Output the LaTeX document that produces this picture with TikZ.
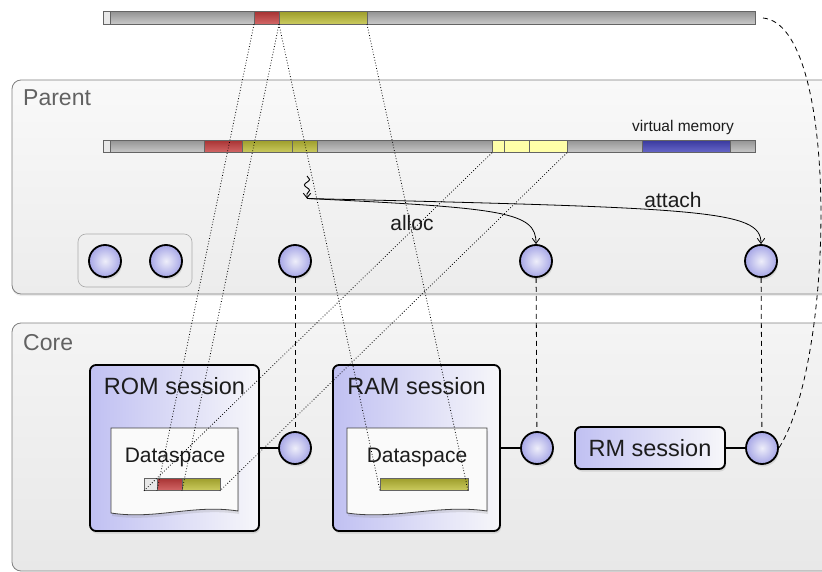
\documentclass[tikz,border=0pt]{standalone}
\usepackage{fontspec}
\setmainfont{Liberation Sans}
\usetikzlibrary{arrows.meta,calc,decorations.pathmorphing,positioning,shadows}

\definecolor{capin}{RGB}{238,238,250}
\definecolor{capout}{RGB}{166,166,230}
\definecolor{sesleft}{RGB}{192,192,242}
\definecolor{sesright}{RGB}{247,247,250}
\definecolor{barline}{RGB}{100,100,100}
\definecolor{graytop}{RGB}{148,148,148}
\definecolor{graybot}{RGB}{202,202,202}
\definecolor{redtop}{RGB}{168,52,52}
\definecolor{redbot}{RGB}{212,104,104}
\definecolor{olivetop}{RGB}{158,158,44}
\definecolor{olivebot}{RGB}{204,204,96}
\definecolor{paleyel}{RGB}{255,255,168}
\definecolor{bluetop}{RGB}{58,58,158}
\definecolor{bluebot}{RGB}{104,104,202}
\definecolor{lightfill}{RGB}{232,232,232}
\definecolor{boxline}{RGB}{128,128,128}
\definecolor{groupline}{RGB}{170,170,170}
\definecolor{parenttop}{RGB}{249,249,249}
\definecolor{parentbot}{RGB}{236,236,236}
\definecolor{coretop}{RGB}{244,244,244}
\definecolor{corebot}{RGB}{232,232,232}
\definecolor{dsline}{RGB}{64,64,64}
\definecolor{dsfill}{RGB}{250,250,250}
\definecolor{labelgray}{RGB}{98,98,98}
\definecolor{inktext}{RGB}{28,28,28}

\tikzset{
barseg/.style={
  rectangle,
  inner sep=0pt,
  outer sep=0pt,
  minimum height=12.5pt,
  draw=barline,
  line width=0.6pt,
  }
}
\tikzset{
grayseg/.style={barseg, top color=graytop, bottom color=graybot},
redseg/.style={barseg, top color=redtop, bottom color=redbot},
oliveseg/.style={barseg, top color=olivetop, bottom color=olivebot},
paleseg/.style={barseg, fill=paleyel},
blueseg/.style={barseg, top color=bluetop, bottom color=bluebot},
lightseg/.style={barseg, fill=lightfill}
}
\tikzset{
capstyle/.style={
  circle,
  minimum size=32pt,
  inner sep=0pt,
  line width=1.8pt,
  draw=black,
  inner color=capin,
  outer color=capout,
  drop shadow={shadow xshift=1pt, shadow yshift=-2.5pt, opacity=0.22},
  }
}
\tikzset{
sesstyle/.style={
  rectangle,
  rounded corners=6pt,
  line width=1.8pt,
  draw=black,
  left color=sesleft,
  right color=sesright,
  drop shadow={shadow xshift=1pt, shadow yshift=-2.5pt, opacity=0.22},
  }
}
\tikzset{
dsstyle/.style={rectangle, inner sep=0pt, outer sep=0pt},
dsframe/.style={
  draw=dsline,
  line width=0.8pt,
  fill=dsfill,
  drop shadow={shadow xshift=1pt, shadow yshift=-3pt, opacity=0.2},
  }
}
\tikzset{
headtext/.style={font=\fontsize{23.5}{28}\selectfont, text=inktext, inner sep=0pt},
dstext/.style={font=\fontsize{21}{25}\selectfont, text=inktext, inner sep=0pt},
areatext/.style={font=\fontsize{23}{27}\selectfont, text=labelgray, inner sep=0pt},
calltext/.style={font=\fontsize{21}{25}\selectfont, text=inktext, inner sep=0pt},
smalltext/.style={font=\fontsize{15.5}{19}\selectfont, text=inktext, inner sep=0pt}
}
\tikzset{
capline/.style={line width=2.2pt},
capdash/.style={line width=0.8pt, dash pattern=on 5pt off 4pt},
mapline/.style={line width=0.8pt, dash pattern=on 0.8pt off 2pt},
callline/.style={line width=0.8pt, -{Straight Barb[length=1.8mm,width=2.6mm]}},
mysnake/.style={
  decoration={snake, amplitude=2.6pt, segment length=11pt, post length=3pt},
  decorate
  }
}

\begin{document}
\begin{tikzpicture}[x=1pt, y=-1pt]
    \useasboundingbox (0,0) rectangle (822,572);
    % parent and core areas
	\path [draw=boxline, line width=0.8pt, top color=parenttop, bottom color=parentbot, rounded corners=9pt, drop shadow={shadow xshift=0pt, shadow yshift=-2pt, opacity=0.15}] (12,80) rectangle (850,294) {};
	\path [draw=boxline, line width=0.8pt, top color=coretop, bottom color=corebot, rounded corners=9pt] (12,323) rectangle (850,571) {};
	\path [draw=groupline, line width=0.6pt, rounded corners=8pt] (78,234) rectangle (192,287) {};
	\node[areatext, anchor=base west] (parentlabel) at (23,106) {Parent};
	\node[areatext, anchor=base west] (corelabel) at (23,350) {Core};

    % top address space
    \node[lightseg, minimum width=7pt, anchor=west] (tl) at (103,18) {};
    \node[grayseg, minimum width=144pt, right=0pt of tl] (t0) {};
    \node[redseg, minimum width=25pt, right=0pt of t0] (tred) {};
    \node[oliveseg, minimum width=88pt, right=0pt of tred] (tyel) {};
    \node[grayseg, minimum width=388pt, right=0pt of tyel] (t1) {};

    % virtual memory of parent
    \node[lightseg, minimum width=7pt, anchor=west] (pl) at (103,146.5) {};
    \node[grayseg, minimum width=94pt, right=0pt of pl] (p0) {};
    \node[redseg, minimum width=38pt, right=0pt of p0] (pred) {};
    \node[oliveseg, minimum width=50pt, right=0pt of pred] (pyel1) {};
    \node[oliveseg, minimum width=25pt, right=0pt of pyel1] (pyel2) {};
    \node[grayseg, minimum width=175pt, right=0pt of pyel2] (p1) {};
    \node[paleseg, minimum width=12pt, right=0pt of p1] (pw1) {};
    \node[paleseg, minimum width=25pt, right=0pt of pw1] (pw2) {};
    \node[paleseg, minimum width=38pt, right=0pt of pw2] (pw3) {};
    \node[grayseg, minimum width=75pt, right=0pt of pw3] (p2) {};
    \node[blueseg, minimum width=88pt, right=0pt of p2] (pblue) {};
    \node[grayseg, minimum width=25pt, right=0pt of pblue] (p3) {};
    \node[smalltext, anchor=base] (vmlabel) at (683,131.5) {virtual memory};

    % capabilities of parent
    \node[capstyle] (gcap1) at (105,261) {};
    \node[capstyle] (gcap2) at (166,261) {};
    \node[capstyle] (pcap) at (295,261) {};
    \node[capstyle] (pram) at (536,261) {};
    \node[capstyle] (prm) at (761,261) {};

    % sessions of core
    \node[sesstyle, minimum width=169pt, minimum height=166pt] (rom) at (174.5,448) {};
    \node[sesstyle, minimum width=167pt, minimum height=166pt] (ram) at (416.5,448) {};
    \node[sesstyle, minimum width=150pt, minimum height=42pt, headtext] (rm) at (650,448) {RM session};
    \node[headtext, anchor=base] (romlabel) at ([yshift=-30pt]rom.north) {ROM session};
    \node[headtext, anchor=base] (ramlabel) at ([yshift=-30pt]ram.north) {RAM session};
    \node[capstyle] (romcap) at (295,448) {};
    \node[capstyle] (ramcap) at (537,448) {};
    \node[capstyle] (rmcap) at (762,448) {};

    % dataspaces
    \node[dsstyle, minimum width=127pt, minimum height=83pt] (romds) at (174.5,469.5) {};
    \node[dsstyle, minimum width=140pt, minimum height=83pt] (ramds) at (417,469.5) {};
    \path[dsframe] (romds.north west) -- (romds.north east) -- (romds.south east) .. controls +(-45,-7) and +(45,7) .. ([yshift=-2pt]romds.south west) -- cycle;
    \path[dsframe] (ramds.north west) -- (ramds.north east) -- (ramds.south east) .. controls +(-48,-7) and +(48,7) .. ([yshift=-2pt]ramds.south west) -- cycle;
    \node[dstext, anchor=base] (romdslabel) at (175,462) {Dataspace};
    \node[dstext, anchor=base] (ramdslabel) at (417,462) {Dataspace};
    \node[lightseg, minimum width=13pt, anchor=west] (rl) at (144,484.5) {};
    \node[redseg, minimum width=25pt, right=0pt of rl] (rred) {};
    \node[oliveseg, minimum width=38pt, right=0pt of rred] (ryel) {};
    \node[oliveseg, minimum width=88pt, anchor=west] (ryel2) at (380,484.5) {};

    % session caps
	\draw[capline] (rom) -- (romcap);
	\draw[capline] (ram) -- (ramcap);
	\draw[capline] (rm) -- (rmcap);
	\draw[capdash] (pcap) -- (romcap);
	\draw[capdash] (pram) -- (ramcap);
	\draw[capdash] (prm) -- (rmcap);

    % alloc and attach
    \coordinate (reqtop) at (307,176);
    \coordinate (req) at (307,198.5);
	\draw[line width=0.9pt, mysnake, -{Straight Barb[length=1.6mm,width=2.6mm]}] (reqtop) -- (req);
	\draw[callline] (req) .. controls (505,208) and (536,212) .. (pram.north);
	\draw[callline] (req) .. controls (705,208) and (761,210) .. (prm.north);
	\node[calltext, anchor=base] (alloclabel) at (412,230) {alloc};
	\node[calltext, anchor=base] (attachlabel) at (673,208) {attach};

    % mappings
	\draw[mapline] (tred.south west) -- (rred.south west);
	\draw[mapline] (tred.south east) -- (rred.south east);
	\draw[mapline] (tyel.south west) -- (ryel2.south west);
	\draw[mapline] (tyel.south east) -- (ryel2.south east);
	\draw[mapline] (pw1.south west) -- (rl.south west);
	\draw[mapline] (pw3.south east) -- (ryel.south east);
	\draw[capdash] ([xshift=8pt]t1.east) .. controls (840,25) and (835,360) .. (rmcap.east);
  \end{tikzpicture}
\end{document}
